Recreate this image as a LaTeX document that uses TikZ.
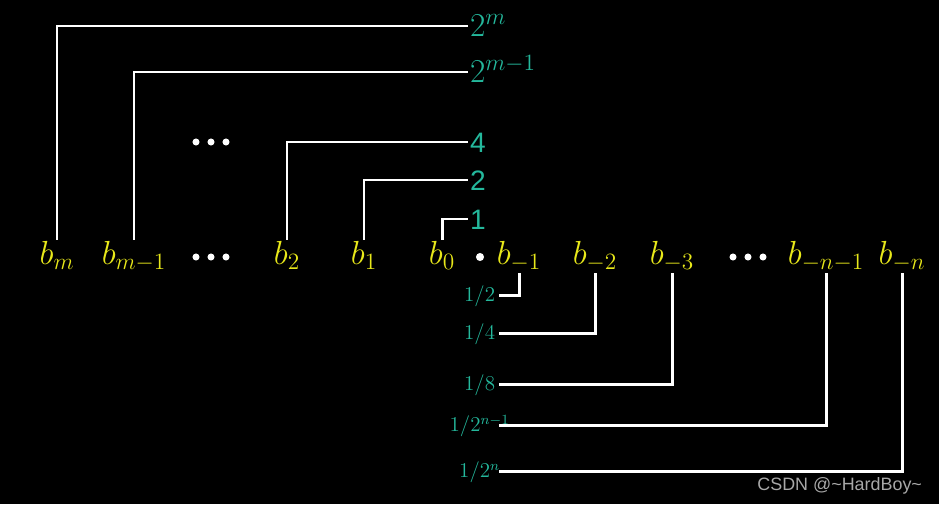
\RequirePackage{fix-cm}
\documentclass[tikz,border=0pt]{standalone}
\usepackage{fontspec}
\newfontfamily\lsans{Liberation Sans}
\definecolor{yel}{HTML}{E8E81A}
\definecolor{tl}{HTML}{24B89C}
\definecolor{wmgray}{HTML}{A8A8A8}
\begin{document}
\begin{tikzpicture}[x=0.02cm,y=-0.02cm,
  bit/.style={text=yel,font=\fontsize{19}{22}\selectfont,anchor=base,inner sep=0pt,text height=13.9pt,text depth=4.8pt},
  pw/.style={text=tl,font=\fontsize{19}{22}\selectfont,anchor=west,inner xsep=1pt,inner ysep=0pt,text height=12.2pt,text depth=0pt},
  pws/.style={text=tl,font=\lsans\fontsize{16}{18}\selectfont,anchor=west,inner xsep=1pt,inner ysep=0pt,text height=11.5pt,text depth=0pt},
  fr/.style={text=tl,font=\fontsize{12}{14}\selectfont,anchor=east,inner sep=0pt,text height=7.7pt,text depth=0pt},
  wire/.style={draw=white,line width=1.7pt},
  dotf/.style={fill=white}]
\fill[black] (0,0) rectangle (939,504);
\useasboundingbox (0,0) rectangle (939,504);

% bits
\node[bit] (bm)  at (57,264.5)  {$b_m$};
\node[bit] (bm1) at (134,264.5) {$b_{m-1}$};
\node[bit] (b2)  at (287,264.5) {$b_2$};
\node[bit] (b1)  at (364,264.5) {$b_1$};
\node[bit] (b0)  at (442,264.5) {$b_0$};
\node[bit] (c1)  at (519,264.5) {$b_{-1}$};
\node[bit] (c2)  at (595,264.5) {$b_{-2}$};
\node[bit] (c3)  at (672,264.5) {$b_{-3}$};
\node[bit] (cn1) at (826,264.5) {$b_{-n-1}$};
\node[bit] (cn)  at (902,264.5) {$b_{-n}$};

% weights
\node[pw]  (pm)  at (468,26)  {$2^m$};
\node[pw]  (pm1) at (468,72)  {$2^{m-1}$};
\node[pws] (p4)  at (468,142) {4};
\node[pws] (p2)  at (468,180) {2};
\node[pws] (p1)  at (468,219) {1};

\node[fr] (h1) at (499,295) {\makebox[0.76cm]{$1/2$}};
\node[fr] (h2) at (499,333) {\makebox[0.76cm]{$1/4$}};
\node[fr] (h3) at (499,384) {\makebox[0.76cm]{$1/8$}};
\node[fr] (hn1) at (499,425) {\makebox[0.76cm]{$1/2^{n-1}$}};
\node[fr] (hn) at (499,471) {\makebox[0.76cm]{$1/2^{n}$}};

% wires
\draw[wire] (bm.north)  |- (pm.west);
\draw[wire] (bm1.north) |- (pm1.west);
\draw[wire] (b2.north)  |- (p4.west);
\draw[wire] (b1.north)  |- (p2.west);
\draw[wire] (b0.north)  |- (p1.west);
\draw[wire] (c1.south)  |- (h1.east);
\draw[wire] (c2.south)  |- (h2.east);
\draw[wire] (c3.south)  |- (h3.east);
\draw[wire] (cn1.south) |- (hn1.east);
\draw[wire] (cn.south)  |- (hn.east);

% dots
\foreach \x in {196,211,226} {
  \fill[dotf] (\x,142) circle[radius=2pt];
  \fill[dotf] (\x,257) circle[radius=2pt];
}
\foreach \x in {733,748,763} {
  \fill[dotf] (\x,257) circle[radius=2pt];
}
\fill[dotf] (480,257) circle[radius=2.3pt];

% watermark
\node[anchor=base west,text=wmgray,font=\lsans\fontsize{10.2}{12}\selectfont,inner sep=0pt] (wm) at (757,490) {CSDN @\textasciitilde HardBoy\textasciitilde};
\end{tikzpicture}
\end{document}
